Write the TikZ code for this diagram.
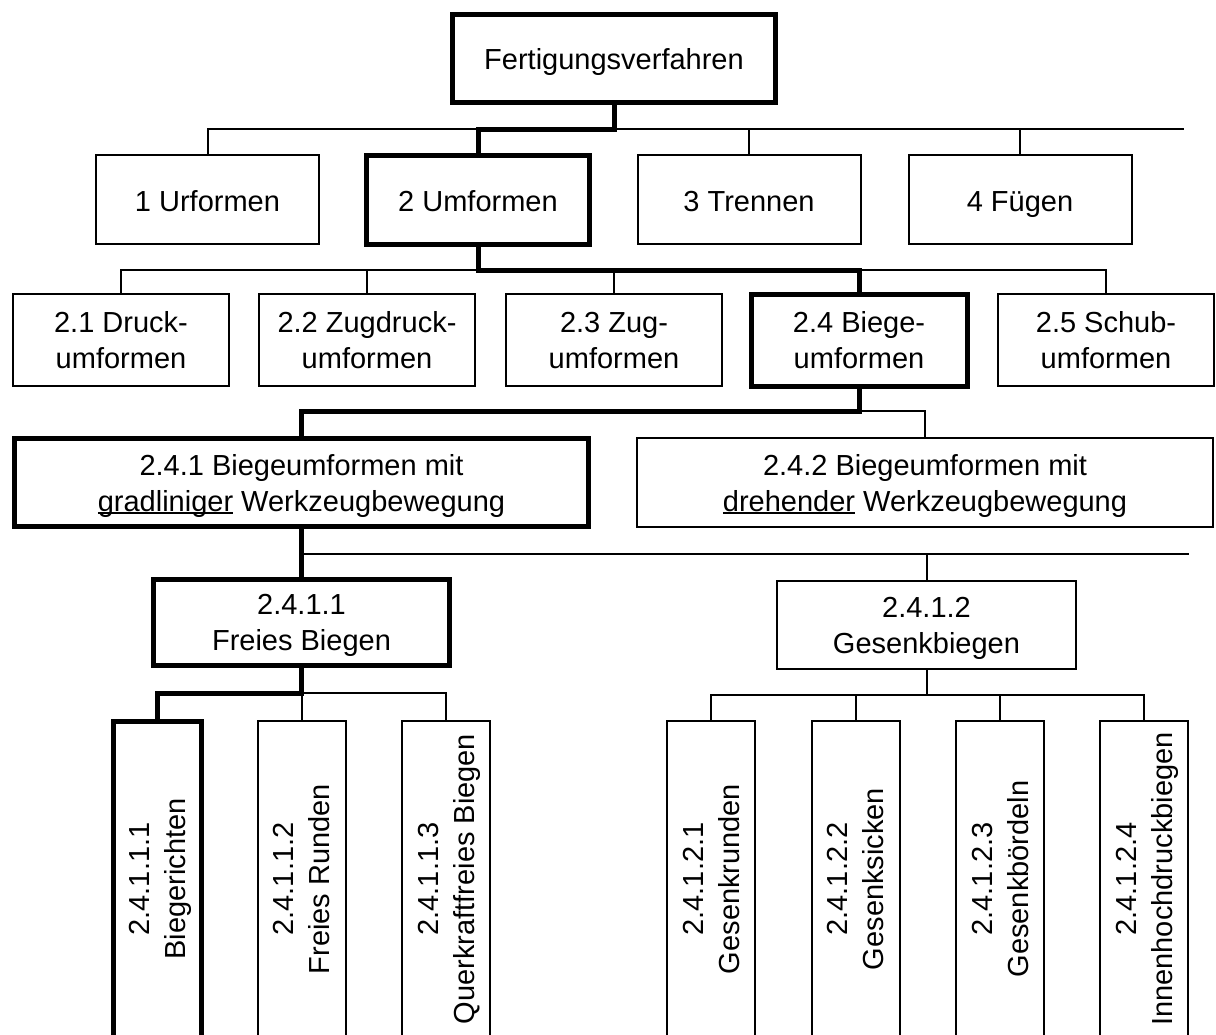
\documentclass[tikz,border=0pt]{standalone}
\usepackage{fontspec}
\setmainfont{Liberation Sans}
\usepackage{tikz}
\usetikzlibrary{positioning}
\newcommand\fvFont{\fontsize{14.5}{18}\selectfont}
\newcommand\ulWord[1]{\setbox0\hbox{#1}\rlap{\rule[-1.6pt]{\wd0}{0.9pt}}\box0{}}
\tikzset{
  fvBox/.style  = {rectangle, draw, line width=1pt, inner sep=0pt,
                   align=center, font=\fvFont, text depth=0pt},
  fvOne/.style  = {text height=11.5pt, text depth=0.5pt},
  fvHigh/.style = {line width=2.5pt},
  fvLink/.style = {draw, line width=1pt},
  fvPath/.style = {draw, line width=2.5pt},
  fvTall/.style = {fvBox, rotate=90, minimum width=158pt, minimum height=44pt},
}
\begin{document}
\begin{tikzpicture}[x=0.5pt,y=-0.5pt]
  \useasboundingbox (0,0) rectangle (1216,1034);
  \clip (0,0) rectangle (1216,1034);
  \node[fvBox,fvOne,fvHigh,minimum width=161.5pt,minimum height=44pt](root) at (614,58.5){Fertigungsverfahren};
  \begin{scope}[every node/.append style={fvOne,minimum width=111.5pt,minimum height=44.5pt}]
    \node[fvBox](u1) at (207.5,199.5){1 Urformen};
    \node[fvBox,fvHigh](u2) at (478,199.5){2 Umformen};
    \node[fvBox](u3) at (749,199.5){3 Trennen};
    \node[fvBox](u4) at (1020,199.5){4 Fügen};
  \end{scope}
  \begin{scope}[every node/.append style={minimum width=108pt,minimum height=46pt}]
    \node[fvBox](d1) at (121,340){2.1 Druck-\\umformen};
    \node[fvBox](d2) at (367,340){2.2 Zugdruck-\\umformen};
    \node[fvBox](d3) at (614,340){2.3 Zug-\\umformen};
    \node[fvBox,fvHigh](d4) at (859,340){2.4 Biege-\\umformen};
    \node[fvBox](d5) at (1106,340){2.5 Schub-\\umformen};
  \end{scope}
  \node[fvBox,fvHigh,minimum width=287pt,minimum height=44pt](b1) at (301.5,482.5)
      {2.4.1 Biegeumformen mit\\\ulWord{gradliniger} Werkzeugbewegung};
  \node[fvBox,minimum width=288pt,minimum height=44.5pt](b2) at (925,482.5)
      {2.4.2 Biegeumformen mit\\\ulWord{drehender} Werkzeugbewegung};
  \node[fvBox,fvHigh,minimum width=148pt,minimum height=43pt](f1) at (301.5,622.5){2.4.1.1\\Freies Biegen};
  \node[fvBox,minimum width=149.5pt,minimum height=44pt](f2) at (926.5,625){2.4.1.2\\Gesenkbiegen};
  \node[fvTall,fvHigh](g1) at (157,879){2.4.1.1.1\\Biegerichten};
  \node[fvTall](g2) at (301.5,879){2.4.1.1.2\\Freies Runden};
  \node[fvTall](g3) at (446,879){2.4.1.1.3\\Querkraftfreies Biegen};
  \node[fvTall](h1) at (711,879){2.4.1.2.1\\Gesenkrunden};
  \node[fvTall](h2) at (855.5,879){2.4.1.2.2\\Gesenksicken};
  \node[fvTall](h3) at (1000,879){2.4.1.2.3\\Gesenkbördeln};
  \node[fvTall](h4) at (1144,879){2.4.1.2.4\\Innenhochdruckbiegen};
  \coordinate (busOne) at (1184,129);
  \coordinate (busTwo) at (0,270);
  \coordinate (busThree) at (0,411);
  \coordinate (busFour) at (1189,554);
  \coordinate (busFive) at (0,693);
  \coordinate (busSix) at (0,695);
  \draw[fvLink](u1.north) |- (busOne);
  \draw[fvLink](u3.north) -- (u3.north |- busOne);
  \draw[fvLink](u4.north) -- (u4.north |- busOne);
  \draw[fvPath](root.south) -- (root.south |- busOne) -| (u2.north);
  \draw[fvLink](d1.north) -- (d1.north |- busTwo) -- (d5.north |- busTwo) -- (d5.north);
  \draw[fvLink](d2.north) -- (d2.north |- busTwo);
  \draw[fvLink](d3.north) -- (d3.north |- busTwo);
  \draw[fvPath](u2.south) -- (u2.south |- busTwo) -| (d4.north);
  \draw[fvLink](d4.south |- busThree) -| (b2.north);
  \draw[fvPath](d4.south) -- (d4.south |- busThree) -| (b1.north);
  \draw[fvLink](b1.south |- busFour) -- (busFour);
  \draw[fvLink](f2.north) -- (f2.north |- busFour);
  \draw[fvPath](b1.south) -- (f1.north);
  \draw[fvLink](f1.south |- busFive) -| (g3.east);
  \draw[fvLink](g2.east) -- (g2.east |- busFive);
  \draw[fvPath](f1.south) -- (f1.south |- busFive) -| (g1.east);
  \draw[fvLink](f2.south) -- (f2.south |- busSix);
  \draw[fvLink](h1.east) |- (h4.east |- busSix) -- (h4.east);
  \draw[fvLink](h2.east) -- (h2.east |- busSix);
  \draw[fvLink](h3.east) -- (h3.east |- busSix);
\end{tikzpicture}
\end{document}
